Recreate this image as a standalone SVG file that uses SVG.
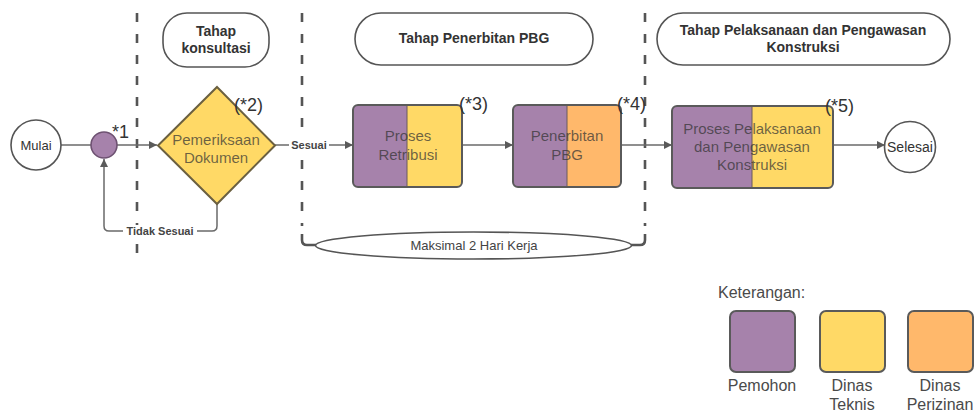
<svg xmlns="http://www.w3.org/2000/svg" width="978" height="412" viewBox="0 0 978 412">
<defs>
<style>
text{font-family:"Liberation Sans",Arial,sans-serif;}
.ln{fill:none;stroke:#6a6a6a;stroke-width:1.5;}
.dash{fill:none;stroke:#555;stroke-width:2.6;stroke-dasharray:9 12;}
.brk{fill:none;stroke:#555;stroke-width:2.6;}
.ol{fill:none;stroke:#5a5a5a;stroke-width:2;}
.pur{fill:#a682ab;}
.yel{fill:#ffd966;}
.ora{fill:#ffb86b;}
.t{fill:#333;fill-opacity:0.72;font-size:15px;text-anchor:middle;}
.tb{fill:#333;font-size:14px;font-weight:bold;text-anchor:middle;}
.lab{fill:#444;font-size:11px;font-weight:bold;text-anchor:middle;}
.note{fill:#333;font-size:18px;}
.leg{fill:#4a4a4a;font-size:16px;text-anchor:middle;}
</style>
<marker id="ah" viewBox="0 0 10 10" refX="10" refY="5" markerWidth="10" markerHeight="8" markerUnits="userSpaceOnUse" orient="auto">
<path d="M0,0 L10,5 L0,10 z" fill="#5a5a5a"/>
</marker>
</defs>
<rect width="978" height="412" fill="#fff"/>

<g id="swimlanes">
<line class="dash" x1="137" y1="13" x2="137" y2="256"/>
<line class="dash" x1="302" y1="13" x2="302" y2="226"/>
<path class="brk" d="M302,234 V240 Q302,245 307,245 H316"/>
<line class="dash" x1="645" y1="13" x2="645" y2="226"/>
<path class="brk" d="M645,234 V240 Q645,245 640,245 H631"/>
</g>

<g id="connectors">
<line class="ln" x1="61" y1="145" x2="91" y2="145"/>
<line class="ln" x1="117" y1="145" x2="157" y2="145" marker-end="url(#ah)"/>
<line class="ln" x1="275" y1="145" x2="353" y2="145" marker-end="url(#ah)"/>
<path class="ln" d="M217,204 V226 Q217,231 212,231 H109 Q104,231 104,226 V159" marker-end="url(#ah)"/>
<line class="ln" x1="462" y1="145" x2="513" y2="145" marker-end="url(#ah)"/>
<line class="ln" x1="621" y1="145" x2="672" y2="145" marker-end="url(#ah)"/>
<line class="ln" x1="833" y1="145" x2="885" y2="145" marker-end="url(#ah)"/>
<rect x="289" y="139" width="40" height="13" fill="#fff"/>
<text class="lab" x="309" y="149">Sesuai</text>
<rect x="123" y="225" width="74" height="13" fill="#fff"/>
<text class="lab" x="160" y="235">Tidak Sesuai</text>
</g>

<g id="stage-konsultasi">
<rect x="163" y="13" width="106" height="54" rx="24" fill="#fff" stroke="#555" stroke-width="1.6"/>
<text class="tb" x="216" y="36">Tahap</text>
<text class="tb" x="216" y="53">konsultasi</text>
</g>

<g id="stage-penerbitan">
<rect x="355" y="13" width="238" height="52" rx="26" fill="#fff" stroke="#555" stroke-width="1.6"/>
<text class="tb" x="474" y="43">Tahap Penerbitan PBG</text>
</g>

<g id="stage-pelaksanaan">
<rect x="657" y="13" width="293" height="52" rx="26" fill="#fff" stroke="#555" stroke-width="1.6"/>
<text class="tb" x="803" y="35">Tahap Pelaksanaan dan Pengawasan</text>
<text class="tb" x="803" y="52">Konstruksi</text>
</g>

<g id="maksimal">
<ellipse cx="473.5" cy="245.5" rx="158" ry="13.5" fill="#fff" stroke="#555" stroke-width="1.6"/>
<text x="474" y="250" font-size="13" fill="#444" text-anchor="middle">Maksimal 2 Hari Kerja</text>
</g>

<g id="mulai">
<circle cx="36" cy="145" r="25" fill="#fff" stroke="#555" stroke-width="1.6"/>
<text x="36" y="150" font-size="13" fill="#333" text-anchor="middle">Mulai</text>
</g>

<g id="junction">
<circle cx="104" cy="145" r="13" fill="#a682ab" stroke="#6e5272" stroke-width="1.6"/>
<text class="note" x="112" y="138">*1</text>
</g>

<g id="pemeriksaan">
<path d="M217,87 L275,145.5 L217,204 L158,145.5 Z" class="yel" stroke="#6b6040" stroke-width="2"/>
<text class="t" x="216" y="145" font-size="14">Pemeriksaan</text>
<text class="t" x="216" y="163" font-size="14">Dokumen</text>
<text class="note" x="234" y="111">(*2)</text>
</g>

<g id="retribusi">
<rect x="353" y="105" width="109" height="82" rx="5" class="yel"/>
<path d="M407,105 H358 Q353,105 353,110 V182 Q353,187 358,187 H407 Z" class="pur"/>
<line x1="407" y1="105" x2="407" y2="187" stroke="#6a5a5a" stroke-width="1"/>
<rect x="353" y="105" width="109" height="82" rx="5" class="ol"/>
<text class="t" x="408" y="141">Proses</text>
<text class="t" x="408" y="160">Retribusi</text>
<text class="note" x="459" y="110">(*3)</text>
</g>

<g id="penerbitan">
<rect x="513" y="105" width="108" height="82" rx="5" class="ora"/>
<path d="M567,105 H518 Q513,105 513,110 V182 Q513,187 518,187 H567 Z" class="pur"/>
<line x1="567" y1="105" x2="567" y2="187" stroke="#6a5a5a" stroke-width="1"/>
<rect x="513" y="105" width="108" height="82" rx="5" class="ol"/>
<text class="t" x="567" y="141">Penerbitan</text>
<text class="t" x="567" y="160">PBG</text>
<text class="note" x="617" y="110">(*4)</text>
</g>

<g id="pelaksanaan">
<rect x="672" y="106" width="161" height="82" rx="5" class="yel"/>
<path d="M752,106 H677 Q672,106 672,111 V183 Q672,188 677,188 H752 Z" class="pur"/>
<line x1="752" y1="106" x2="752" y2="188" stroke="#6a5a5a" stroke-width="1"/>
<rect x="672" y="106" width="161" height="82" rx="5" class="ol"/>
<text class="t" x="752" y="134">Proses Pelaksanaan</text>
<text class="t" x="752" y="152">dan Pengawasan</text>
<text class="t" x="752" y="170">Konstruksi</text>
<text class="note" x="825" y="112">(*5)</text>
</g>

<g id="selesai">
<circle cx="910" cy="147" r="25.5" fill="#fff" stroke="#555" stroke-width="1.6"/>
<text x="910" y="152" font-size="14" fill="#333" text-anchor="middle">Selesai</text>
</g>

<g id="legend">
<text x="718" y="298" font-size="16" fill="#4a4a4a">Keterangan:</text>
<rect x="730" y="311" width="65" height="61" rx="6" class="pur" stroke="#5a5a5a" stroke-width="2"/>
<rect x="820" y="311" width="65" height="61" rx="6" class="yel" stroke="#5a5a5a" stroke-width="2"/>
<rect x="908" y="311" width="65" height="61" rx="6" class="ora" stroke="#5a5a5a" stroke-width="2"/>
<text class="leg" x="762" y="391">Pemohon</text>
<text class="leg" x="852" y="391">Dinas</text>
<text class="leg" x="852" y="410">Teknis</text>
<text class="leg" x="940" y="391">Dinas</text>
<text class="leg" x="940" y="410">Perizinan</text>
</g>
</svg>
